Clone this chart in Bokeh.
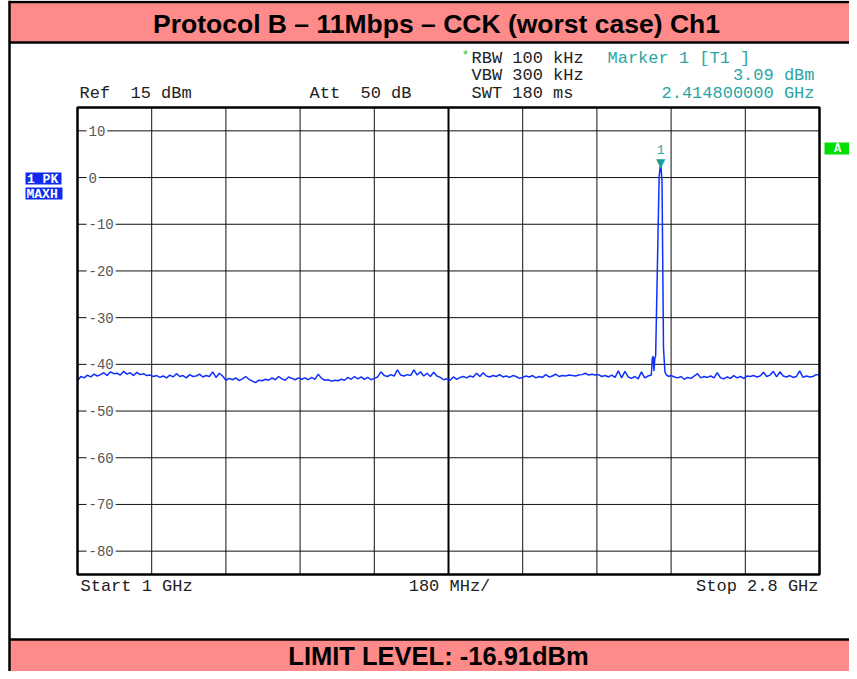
from bokeh.plotting import figure
from bokeh.models import Range1d
from bokeh.core.properties import value
from bokeh.embed import file_html
from bokeh.resources import INLINE

# ---------------- data ----------------
title_text = "Protocol B \u2013 11Mbps \u2013 CCK (worst case) Ch1"
limit_text = "LIMIT LEVEL: -16.91dBm"

start_ghz = 1.0
stop_ghz = 2.8
ref_level_dbm = 15
bottom_level_dbm = -85

y_tick_levels = [10, 0, -10, -20, -30, -40, -50, -60, -70, -80]
y_tick_labels = ["10", "0", "-10", "-20", "-30", "-40", "-50", "-60", "-70", "-80"]
x_grid_ghz = [1.18, 1.36, 1.54, 1.72, 1.90, 2.08, 2.26, 2.44, 2.62]
center_grid_ghz = 1.90

sweep_step_ghz = 0.008
noise_left_start_ghz = 1.0
noise_left_dbm = [
    -43.5, -42.6, -42.9, -42.3, -42.7, -42.1, -42.5, -42.2, -41.8, -42.4, -41.6, -42.0,
    -41.9, -42.3, -41.5, -42.1, -41.8, -42.4, -41.7, -42.2, -42.0, -42.4, -42.3,
    -42.6, -42.4, -42.8, -42.5, -42.9, -42.3, -42.7, -42.0, -42.6, -42.4, -42.9, -42.2,
    -42.6, -42.5, -42.1, -42.7, -42.4, -42.6, -41.6, -42.8, -41.9, -42.5, -43.4,
    -43.0, -43.3, -42.9, -43.5, -43.1, -42.6, -43.2, -43.6, -43.9, -43.4, -43.5, -43.2,
    -43.4, -42.9, -43.3, -42.6, -43.1, -43.4, -42.7, -43.0, -43.3, -42.9,
    -43.2, -42.9, -43.3, -42.8, -43.2, -42.1, -43.0, -43.4, -43.3, -43.6, -43.4, -43.5,
    -43.2, -43.4, -42.8, -43.2, -42.6, -43.1, -42.7, -43.2, -42.8, -43.3, -43.0,
    -42.7, -41.6, -42.4, -42.6, -42.2, -42.5, -41.2, -42.3, -42.5, -42.2, -42.4, -41.2,
    -42.3, -41.6, -42.5, -41.9, -42.6, -41.7, -42.5, -42.8, -43.3, -43.1,
    -43.4, -42.7, -43.2, -42.8, -42.6, -42.9, -42.5, -42.7, -41.9, -42.6, -41.8, -42.5,
    -42.7, -42.4, -42.6, -42.2, -42.7, -42.5, -42.8, -42.4, -42.6, -43.0, -42.8,
    -42.5, -42.7, -42.4, -42.9, -42.6, -42.8, -42.2, -42.7, -42.5, -42.1, -42.6, -42.4,
    -42.5, -42.3, -42.4, -42.5, -42.3, -42.2, -41.9, -42.3, -42.1, -42.3,
    -42.2, -42.6, -42.4, -42.7, -42.3, -42.8, -41.4, -42.9, -41.5, -42.7, -43.0, -42.6,
    -43.1, -41.6, -42.9, -42.5, -42.3,
]
peak_freq_ghz = [2.3945, 2.3965, 2.3985, 2.4005, 2.4025, 2.4110, 2.4148, 2.4180,
                 2.4215, 2.4250, 2.4290, 2.4340]
peak_dbm = [-38.6, -38.3, -41.4, -38.7, -38.2, 0.2, 3.09, -0.8,
            -36.4, -41.6, -42.3, -42.6]
noise_right_start_ghz = 2.44
noise_right_dbm = [
    -42.4, -42.7, -42.9, -42.6, -43.2, -42.8, -43.0, -42.5, -42.0, -42.9, -42.6, -42.8,
    -42.5, -42.9, -41.8, -42.9, -43.1, -42.7, -43.0, -42.4, -42.9, -42.6, -43.0, -42.5,
    -42.6, -42.4, -42.7, -42.5, -41.7, -42.6, -42.3, -41.5, -42.7, -41.6, -42.5, -42.7,
    -42.4, -42.8, -42.6, -41.4, -42.8, -42.5, -42.7, -42.6, -42.2, -42.3,
]

marker_freq_ghz = 2.4148
marker_dbm = 3.09

NB = "\u00a0"
header_left = ["Ref" + NB * 2 + "15 dBm", "Att" + NB * 2 + "50 dB"]
header_settings = ["RBW 100 kHz", "VBW 300 kHz", "SWT 180 ms"]
marker_lines = ["Marker 1 [T1 ]", "3.09 dBm", "2.414800000 GHz"]
footer_left = "Start 1 GHz"
footer_mid = "180 MHz/"
footer_right = "Stop 2.8 GHz"
trace_tags = ["1 PK", "MAXH"]

# ---------------- trace assembly ----------------
trace_freq = [noise_left_start_ghz + i * sweep_step_ghz for i in range(len(noise_left_dbm))]
trace_freq += peak_freq_ghz
trace_freq += [noise_right_start_ghz + i * sweep_step_ghz for i in range(len(noise_right_dbm))]
trace_dbm = noise_left_dbm + peak_dbm + noise_right_dbm

# ---------------- layout (pixels) ----------------
FIG_W, FIG_H = 849, 671
PL, PR, PT, PB = 77, 819, 107, 574   # plot box inside the figure
BAND_TOP = 639

gpp = (stop_ghz - start_ghz) / (PR - PL)
dpp = (ref_level_dbm - bottom_level_dbm) / (PB - PT)

MONO = value("Liberation Mono")
PINK = "#FF8A8A"
TEAL = "#2AA5A5"
BLUE = "#1030FF"

p = figure(width=FIG_W, height=FIG_H, x_range=Range1d(0, FIG_W), y_range=Range1d(FIG_H, 0),
           x_axis_type=None, y_axis_type=None, min_border=0, toolbar_location=None,
           output_backend="svg", outline_line_color=None,
           background_fill_color="white", border_fill_color="white")
p.extra_x_ranges = {"freq": Range1d(start_ghz - PL * gpp, stop_ghz + (FIG_W - PR) * gpp)}
p.extra_y_ranges = {"dbm": Range1d(bottom_level_dbm - (FIG_H - PB) * dpp, ref_level_dbm + PT * dpp)}

# bands and outer frame
p.quad(left=[9], right=[FIG_W], top=[1], bottom=[42], fill_color=PINK, line_color=None)
p.quad(left=[9], right=[FIG_W], top=[BAND_TOP], bottom=[FIG_H], fill_color=PINK, line_color=None)
p.segment(x0=[9, 9, 9], y0=[1.5, 42, BAND_TOP], x1=[FIG_W, FIG_W, FIG_W],
          y1=[1.5, 42, BAND_TOP], line_color="black", line_width=2.5)
p.segment(x0=[9], y0=[0], x1=[9], y1=[FIG_H], line_color="black", line_width=2.5)

bold_font = value("Liberation Sans Narrow, Liberation Sans, sans-serif")
p.text(x=[436], y=[23], text=[title_text], text_font=bold_font, text_font_style="bold",
       text_font_size="26.5px", text_align="center", text_baseline="middle", text_color="black")
p.text(x=[438], y=[655.5], text=[limit_text], text_font=bold_font, text_font_style="bold",
       text_font_size="25.5px", text_align="center", text_baseline="middle", text_color="black")

# header texts
hdr = dict(text_font=MONO, text_font_size="17px", text_baseline="middle")
p.text(x=[79, 309], y=[93, 93], text=header_left, text_color="#222222", **hdr)
p.text(x=[471, 471, 471], y=[58, 75, 93], text=header_settings, text_color="#222222", **hdr)
p.text(x=[461], y=[55], text=["*"], text_color="#22CC22", text_font=MONO,
       text_font_size="13px", text_baseline="middle")
p.text(x=[607], y=[58], text=[marker_lines[0]], text_color=TEAL, **hdr)
p.text(x=[814, 814], y=[75, 93], text=marker_lines[1:], text_color=TEAL,
       text_align="right", **hdr)

# footer texts
p.text(x=[80], y=[586], text=[footer_left], text_color="#222222", **hdr)
p.text(x=[449], y=[586], text=[footer_mid], text_color="#222222", text_align="center", **hdr)
p.text(x=[818], y=[586], text=[footer_right], text_color="#222222", text_align="right", **hdr)

# side tags
p.quad(left=[25, 25], right=[61, 62], top=[172, 187], bottom=[184, 199],
       fill_color="#0F2BF0", line_color=None)
p.text(x=[26.5, 26], y=[178.5, 193.5], text=trace_tags, text_color="white",
       text_font=MONO, text_font_style="bold", text_font_size="13px", text_baseline="middle")
p.quad(left=[824], right=[849], top=[142], bottom=[154], fill_color="#00E000", line_color=None)
p.text(x=[837], y=[148.5], text=["A"], text_color="white", text_font=MONO,
       text_font_style="bold", text_font_size="12px", text_align="center", text_baseline="middle")

# ---------------- plot box in data coordinates ----------------
R = dict(x_range_name="freq", y_range_name="dbm")
p.segment(x0=[start_ghz] * len(y_tick_levels), y0=y_tick_levels,
          x1=[stop_ghz] * len(y_tick_levels), y1=y_tick_levels,
          line_color="#111111", line_width=1, **R)
p.segment(x0=x_grid_ghz, y0=[bottom_level_dbm] * len(x_grid_ghz),
          x1=x_grid_ghz, y1=[ref_level_dbm] * len(x_grid_ghz),
          line_color="#111111", line_width=1, **R)
p.segment(x0=[center_grid_ghz], y0=[bottom_level_dbm], x1=[center_grid_ghz], y1=[ref_level_dbm],
          line_color="black", line_width=2, **R)

p.text(x=[start_ghz] * len(y_tick_levels), y=y_tick_levels, text=y_tick_labels,
       x_offset=9, text_font=MONO, text_font_size="14px", text_color="#555555",
       text_baseline="middle", background_fill_color="white", padding=2, **R)

p.line(trace_freq, trace_dbm, line_color=BLUE, line_width=1.5, **R)

p.text(x=[marker_freq_ghz], y=[marker_dbm], text=["\u25BC"], text_color="#1C9C9C",
       text_font=value("DejaVu Sans"), text_font_size="12px", text_align="center",
       text_baseline="alphabetic", **R)
p.text(x=[marker_freq_ghz], y=[marker_dbm], text=["1"], text_color=TEAL, y_offset=-14,
       text_font=MONO, text_font_size="13px", text_align="center", text_baseline="middle", **R)

p.quad(left=[start_ghz], right=[stop_ghz], top=[ref_level_dbm], bottom=[bottom_level_dbm],
       fill_alpha=0, line_color="black", line_width=2.5, **R)

open("out.html", "w").write(file_html(p, INLINE))
